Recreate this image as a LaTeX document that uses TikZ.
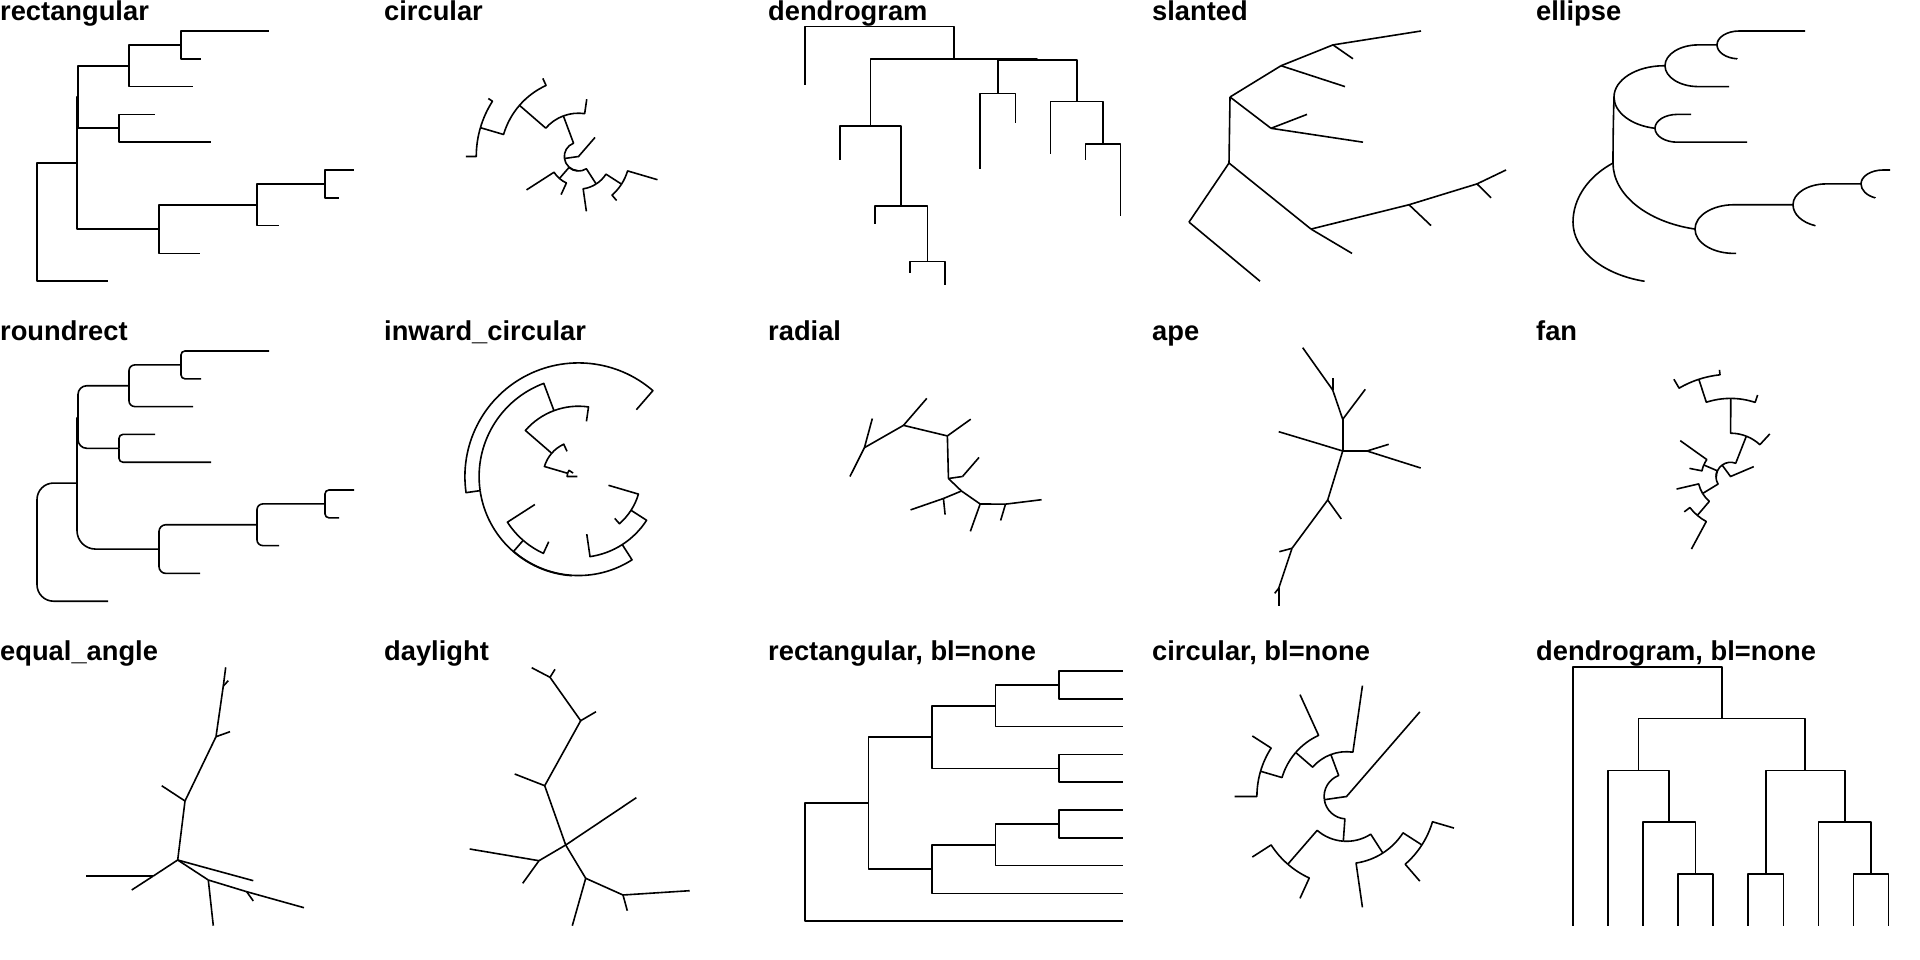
\documentclass[tikz,border=0pt]{standalone}
\usepackage{fontspec}
\setmainfont{Liberation Sans}
\usepackage{tikz}

% tree: name/branch length from root/tip order/depth without lengths
\def\treenodes{root/0/3.125/0, A/40/5.25/1, X/41/7.625/2, B/92/8.75/3, C/144/9.5/4, C1/232/10/5, C2/164/9/5, Bl/156/8/5, D/82/6.5/4, D1/118/7/5, D2/174/6/5, E/122/2.875/2, F/220/3.75/3, G/288/4.5/4, G1/317/5/5, G2/302/4/5, Fl/242/3/5, El/163/2/5, Rl/71/1/5}
\def\treeedges{root/A, root/Rl, A/X, A/E, X/B, X/D, B/C, B/Bl, C/C1, C/C2, D/D1, D/D2, E/F, E/El, F/G, F/Fl, G/G1, G/G2}
\foreach \tn/\td/\ty/\tlev in \treenodes {
  \expandafter\xdef\csname td\tn\endcsname{\td}
  \expandafter\xdef\csname ty\tn\endcsname{\ty}
  \expandafter\xdef\csname tl\tn\endcsname{\tlev}
}
\newcommand{\getnode}[1]{\edef\td{\csname td#1\endcsname}\edef\ty{\csname ty#1\endcsname}\edef\tlev{\csname tl#1\endcsname}}
\newcommand{\placetree}[3]{\foreach \tn/\td/\ty/\tlev in \treenodes {\coordinate (#1\tn) at ({#2},{#3});}}
\newcommand{\placepolar}[5]{\foreach \tn/\td/\ty/\tlev in \treenodes {\coordinate (#1\tn) at ({#2+(#5)*cos(#4)},{#3+(#5)*sin(#4)});}}
\newcommand{\drawpolar}[3]{%
  \foreach \p/\c in \treeedges {
    \getnode{\p}\pgfmathsetmacro\ap{#2}\pgfmathsetmacro\rp{max(#3,0.01)}
    \getnode{\c}\pgfmathsetmacro\ac{#2}
    \draw[branch] (#1\p) arc[start angle=\ap, end angle=\ac, radius=\rp] -- (#1\c);
  }}

\tikzset{
  branch/.style={line width=1.6pt, line join=round},
  paneltitle/.style={anchor=base west, inner sep=0pt, font=\bfseries\fontsize{27.3}{32}\selectfont}
}

\begin{document}
\begin{tikzpicture}[x=1pt, y=-1pt]
\useasboundingbox[fill=white] (0,0) rectangle (1920,960);

% titles
\node[paneltitle] (t-re) at (0,20.7) {rectangular};
\node[paneltitle] (t-ci) at (384,20.7) {circular};
\node[paneltitle] (t-de) at (768,20.7) {dendrogram};
\node[paneltitle] (t-sl) at (1152,20.7) {slanted};
\node[paneltitle] (t-el) at (1536,20.7) {ellipse};
\node[paneltitle] (t-rr) at (0,340.7) {roundrect};
\node[paneltitle] (t-ic) at (384,340.7) {inward\_circular};
\node[paneltitle] (t-ra) at (768,340.7) {radial};
\node[paneltitle] (t-ap) at (1152,340.7) {ape};
\node[paneltitle] (t-fa) at (1536,340.7) {fan};
\node[paneltitle] (t-ea) at (0,660.7) {equal\_angle};
\node[paneltitle] (t-dl) at (384,660.7) {daylight};
\node[paneltitle] (t-rn) at (768,660.7) {rectangular, bl=none};
\node[paneltitle] (t-cn) at (1152,660.7) {circular, bl=none};
\node[paneltitle] (t-dn) at (1536,660.7) {dendrogram, bl=none};

% rectangular
\placetree{re}{37+\td}{31+27.8*(10-\ty)}
\foreach \p/\c in \treeedges {\draw[branch] (re\p) |- (re\c);}

% circular
\placepolar{ci}{578.5}{156.5}{-16.36-32.727*\ty}{0.355*\td}
\drawpolar{ci}{-16.36-32.727*\ty}{0.355*\td}

% dendrogram
\placetree{de}{768+36.7+35.1*(\ty-1)}{26.7+0.815*\td}
\foreach \p/\c in \treeedges {\draw[branch] (de\p) -| (de\c);}

% slanted
\placetree{sl}{1152+37+\td}{31+27.8*(10-\ty)}
\foreach \p/\c in \treeedges {\draw[branch] (sl\p) -- (sl\c);}

% ellipse
\placetree{el}{1536+37+\td}{31+27.8*(10-\ty)}
\foreach \p/\c in \treeedges {
  \getnode{\p}\let\py\ty\let\pd\td \getnode{\c}
  \pgfmathsetmacro\edx{\td-\pd}\pgfmathsetmacro\edy{27.8*(\py-\ty)}
  \pgfmathsetmacro\ea{1.6*abs(\edy)}\pgfmathsetmacro\et{acos(max(1-\edx/\ea,0))}
  \pgfmathsetmacro\eb{abs(\edy)/sin(\et)}\pgfmathsetmacro\ee{\edy>0 ? 180-\et : 180+\et}
  \draw[branch] (el\p) arc[start angle=180, end angle=\ee, x radius=\ea, y radius=\eb] -- (el\c);
}

% roundrect
\placetree{rr}{37+\td}{351+27.8*(10-\ty)}
\foreach \p/\c in \treeedges {
  \getnode{\p}\let\py\ty\let\pd\td \getnode{\c}
  \pgfmathsetmacro\rr{min(0.28*27.8*abs(\ty-\py),\td-\pd)}
  \draw[branch, rounded corners=\rr pt] (rr\p) |- (rr\c);
}

% inward_circular
\placepolar{ic}{578.5}{476.5}{-16.36-32.727*\ty}{0.355*(320-\td)}
\drawpolar{ic}{-16.36-32.727*\ty}{0.355*(320-\td)}

% radial
\placepolar{ra}{962.5}{476.5}{-16.36-32.727*\ty}{0.355*\td}
\foreach \p/\c in \treeedges {\draw[branch] (ra\p) -- (ra\c);}

% ape
\coordinate (apA) at (1342.7,451); \coordinate (apX) at (apA); \coordinate (aproot) at (1319.7,444); \coordinate (apRl) at (1278.7,431.7);
\coordinate (apB) at (1342.7,419.3); \coordinate (apBl) at (1365.3,389.3); \coordinate (apC) at (1332.7,390); \coordinate (apC1) at (1302.7,347.7); \coordinate (apC2) at (1332.7,378.3);
\coordinate (apD) at (1367,451); \coordinate (apD1) at (1388.7,444.3); \coordinate (apD2) at (1420.7,468);
\coordinate (apE) at (1327.7,500); \coordinate (apEl) at (1341.3,519); \coordinate (apF) at (1292,548.3); \coordinate (apFl) at (1279.3,551.7);
\coordinate (apG) at (1278.7,588.3); \coordinate (apG1) at (1278.7,605.7); \coordinate (apG2) at (1274.7,593.3);
\foreach \p/\c in \treeedges {\draw[branch] (ap\p) -- (ap\c);}

% fan
\placepolar{fa}{1730.5}{476.5}{1.3-24.3*\ty}{0.355*\td}
\drawpolar{fa}{1.3-24.3*\ty}{0.355*\td}

% equal_angle
\coordinate (eaA) at (177.7,860); \coordinate (eaX) at (eaA); \coordinate (earoot) at (204.9,867.5); \coordinate (eaRl) at (253.3,880.7);
\coordinate (eaB) at (208.3,880); \coordinate (eaBl) at (213.3,925.7); \coordinate (eaC) at (246.7,891.7); \coordinate (eaC1) at (304,907.7); \coordinate (eaC2) at (253.3,901);
\coordinate (eaD) at (153.3,876); \coordinate (eaD1) at (131.7,890); \coordinate (eaD2) at (86,876);
\coordinate (eaE) at (185,801); \coordinate (eaEl) at (161.7,785.7); \coordinate (eaF) at (216,736.7); \coordinate (eaFl) at (230,731.7);
\coordinate (eaG) at (223.3,686); \coordinate (eaG1) at (225.7,667.3); \coordinate (eaG2) at (228.3,680.7);
\foreach \p/\c in \treeedges {\draw[branch] (ea\p) -- (ea\c);}

% daylight
\coordinate (dlA) at (565.7,845); \coordinate (dlX) at (dlA); \coordinate (dlroot) at (591.1,828); \coordinate (dlRl) at (636.3,797.7);
\coordinate (dlB) at (585.7,878.3); \coordinate (dlBl) at (572.3,925.7); \coordinate (dlC) at (623,895); \coordinate (dlC1) at (689.7,890.7); \coordinate (dlC2) at (627.3,910.7);
\coordinate (dlD) at (539,860.7); \coordinate (dlD1) at (522.7,883.3); \coordinate (dlD2) at (469.7,849);
\coordinate (dlE) at (544.7,785.7); \coordinate (dlEl) at (514.7,774); \coordinate (dlF) at (580.7,720.7); \coordinate (dlFl) at (596,711.7);
\coordinate (dlG) at (550,677.3); \coordinate (dlG1) at (531.7,667.7); \coordinate (dlG2) at (555,669.3);
\foreach \p/\c in \treeedges {\draw[branch] (dl\p) -- (dl\c);}

% rectangular, bl=none
\placetree{rn}{768+37+63.5*\tlev}{671+27.8*(10-\ty)}
\foreach \p/\c in \treeedges {\draw[branch] (rn\p) |- (rn\c);}

% circular, bl=none
\placepolar{cn}{1346.5}{796.5}{-16.36-32.727*\ty}{22.4*\tlev}
\drawpolar{cn}{-16.36-32.727*\ty}{22.4*\tlev}

% dendrogram, bl=none
\placetree{dn}{1536+36.7+35.1*(\ty-1)}{666.7+51.8*\tlev}
\foreach \p/\c in \treeedges {\draw[branch] (dn\p) -| (dn\c);}
\end{tikzpicture}
\end{document}
